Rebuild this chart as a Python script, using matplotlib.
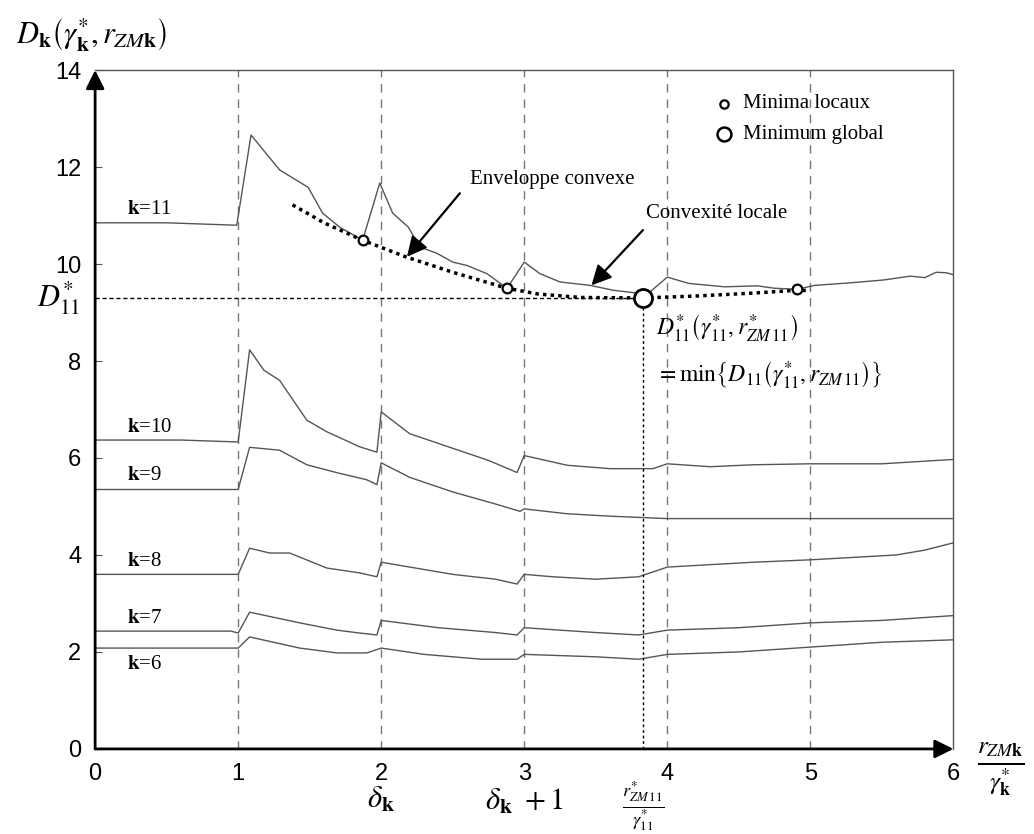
import numpy as np
import matplotlib
matplotlib.use('Agg')
import matplotlib.pyplot as plt
import matplotlib as mpl

mpl.rcParams['mathtext.fontset'] = 'stix'
mpl.rcParams['font.family'] = ['Liberation Sans', 'DejaVu Sans']

###########################################################
# data

k11_x = [0, 0.5, 0.99, 1.09, 1.29, 1.49, 1.59, 1.71, 1.87, 1.99, 2.08, 2.19, 2.27, 2.39, 2.5, 2.6,
         2.74, 2.88, 3.0, 3.11, 3.25, 3.46, 3.62, 3.79, 3.83, 4.0, 4.15, 4.4, 4.63, 4.75, 4.91,
         5.03, 5.27, 5.51, 5.7, 5.8, 5.88, 5.95, 6.0]
k11_y = [10.85, 10.85, 10.8, 12.66, 11.94, 11.58, 11.05, 10.76, 10.49, 11.67, 11.05, 10.76, 10.35,
         10.22, 10.04, 9.97, 9.8, 9.5, 10.04, 9.8, 9.63, 9.56, 9.46, 9.4, 9.3, 9.73, 9.6, 9.53,
         9.55, 9.5, 9.48, 9.56, 9.61, 9.67, 9.75, 9.72, 9.83, 9.82, 9.78]

k10_x = [0, 0.6, 1.0, 1.08, 1.18, 1.29, 1.48, 1.62, 1.85, 1.97, 2.0, 2.2, 2.5, 2.75, 2.95, 3.0,
         3.3, 3.6, 3.9, 4.0, 4.3, 4.6, 5.0, 5.5, 6.0]
k10_y = [6.37, 6.37, 6.33, 8.23, 7.81, 7.6, 6.78, 6.54, 6.23, 6.12, 6.95, 6.5, 6.2, 5.95, 5.7, 6.05,
         5.85, 5.78, 5.78, 5.88, 5.82, 5.86, 5.88, 5.88, 5.97]

k9_x = [0, 1.0, 1.08, 1.29, 1.48, 1.7, 1.9, 1.97, 2.0, 2.2, 2.5, 2.8, 2.97, 3.0, 3.3, 3.6, 4.0,
        4.5, 5.0, 5.5, 6.0]
k9_y = [5.35, 5.35, 6.22, 6.16, 5.86, 5.69, 5.55, 5.45, 5.9, 5.6, 5.3, 5.05, 4.9, 4.95, 4.85, 4.8,
        4.75, 4.75, 4.75, 4.75, 4.75]

k8_x = [0, 1.0, 1.08, 1.22, 1.36, 1.62, 1.85, 1.97, 2.0, 2.2, 2.5, 2.8, 2.95, 3.0, 3.2, 3.5, 3.8,
        4.0, 4.3, 4.6, 5.0, 5.3, 5.6, 5.8, 6.0]
k8_y = [3.6, 3.6, 4.14, 4.04, 4.04, 3.73, 3.63, 3.55, 3.85, 3.75, 3.6, 3.5, 3.4, 3.6, 3.55, 3.5,
        3.55, 3.75, 3.8, 3.85, 3.9, 3.95, 4.0, 4.1, 4.25]

k7_x = [0, 0.95, 1.0, 1.08, 1.43, 1.69, 1.85, 1.97, 2.0, 2.4, 2.8, 2.95, 3.0, 3.5, 3.8, 4.0, 4.5,
        5.0, 5.5, 6.0]
k7_y = [2.43, 2.43, 2.39, 2.82, 2.6, 2.45, 2.39, 2.35, 2.65, 2.5, 2.4, 2.35, 2.5, 2.4, 2.35, 2.45,
        2.5, 2.6, 2.65, 2.75]

k6_x = [0, 1.0, 1.08, 1.43, 1.69, 1.9, 2.0, 2.3, 2.7, 2.95, 3.0, 3.5, 3.8, 4.0, 4.5, 5.0, 5.5, 6.0]
k6_y = [2.08, 2.08, 2.31, 2.08, 1.98, 1.98, 2.08, 1.95, 1.85, 1.85, 1.95, 1.9, 1.85, 1.95, 2.0,
        2.1, 2.2, 2.25]

curves = [(k11_x, k11_y), (k10_x, k10_y), (k9_x, k9_y), (k8_x, k8_y), (k7_x, k7_y), (k6_x, k6_y)]
k_names = ['11', '10', '9', '8', '7', '6']
k_label_y = [10.92, 6.44, 5.45, 3.67, 2.5, 1.55]

env_x = [1.38, 1.6, 1.87, 2.17, 2.5, 2.88, 3.1, 3.4, 3.83, 4.2, 4.6, 4.91, 5.0]
env_y = [11.22, 10.85, 10.49, 10.15, 9.83, 9.5, 9.38, 9.31, 9.3, 9.34, 9.4, 9.46, 9.45]

loc_min_x = [1.87, 2.88, 4.91]
loc_min_y = [10.49, 9.5, 9.48]
glob_x = 3.83
glob_y = 9.3

###########################################################

fig = plt.figure(figsize=(10.34, 8.34), dpi=100)
ax = fig.add_axes([0.092, 0.102, 0.830, 0.814])
ax.set_xlim(0, 6)
ax.set_ylim(0, 14)

for s in ['left', 'bottom']:
    ax.spines[s].set_visible(False)
for s in ['top', 'right']:
    ax.spines[s].set_color('#555555')
    ax.spines[s].set_linewidth(1.0)

# axis arrows
arr = dict(arrowstyle='-|>', color='k', lw=2, mutation_scale=28, shrinkA=0, shrinkB=0)
ax.annotate('', xy=(0, 1), xycoords='axes fraction', xytext=(0, 0), arrowprops=arr)
ax.annotate('', xy=(1, 0), xycoords='axes fraction', xytext=(0, 0), arrowprops=arr)

# vertical dashed guides
for xv in [1, 2, 3, 4, 5]:
    ax.axvline(xv, color='#777777', lw=1, ls=(0, (6, 5)), zorder=1)

# curves
for (cx, cy), name, ly in zip(curves, k_names, k_label_y):
    ax.plot(cx, cy, color='#555555', lw=1.0, zorder=2)
    ax.text(0.22, ly, r'$\mathbf{k}$=' + name, family='Liberation Serif', fontsize=15,
            va='bottom', ha='left')

# D11* guides
ax.plot([0, glob_x], [glob_y, glob_y], color='k', lw=1, ls=(0, (3, 2)), zorder=2)
ax.plot([glob_x, glob_x], [0, glob_y], color='k', lw=1, ls=(0, (2, 2)), zorder=2)

# convex envelope
ax.plot(env_x, env_y, color='k', lw=2.5, ls=(0, (1, 1.2)), zorder=3)

ax.plot(loc_min_x, loc_min_y, 'o', mfc='white', mec='k', ms=7, mew=1.6, zorder=4)
ax.plot([glob_x], [glob_y], 'o', mfc='white', mec='k', ms=13, mew=2, zorder=4)

# arrows with text
head = dict(arrowstyle='-|>', color='k', lw=1.6, mutation_scale=30, shrinkA=0, shrinkB=0)
ax.annotate('', xy=(2.18, 10.15), xytext=(2.55, 11.46), arrowprops=head)
ax.annotate('', xy=(3.47, 9.56), xytext=(3.83, 10.7), arrowprops=head)
ax.text(2.62, 11.75, 'Enveloppe convexe', family='Liberation Serif', fontsize=15, va='center')
ax.text(3.85, 11.05, u'Convexit\u00e9 locale', family='Liberation Serif', fontsize=15, va='center')

ax.text(3.92, 8.68, r'$D^{*}_{11}\left(\gamma^{*}_{11},r^{*}_{ZM\,11}\right)$', fontsize=17,
        va='center', ha='left')
ax.text(3.92, 7.71, r'$=\min\left\{D_{11}\left(\gamma^{*}_{11},r_{ZM\,11}\right)\right\}$',
        fontsize=17, va='center', ha='left')

# legend
ax.plot([4.4], [13.3], 'o', mfc='white', mec='k', ms=6, mew=1.6, clip_on=False)
ax.text(4.53, 13.3, 'Minima locaux', family='Liberation Serif', fontsize=15, va='center')
ax.plot([4.4], [12.68], 'o', mfc='white', mec='k', ms=10, mew=1.8, clip_on=False)
ax.text(4.53, 12.68, 'Minimum global', family='Liberation Serif', fontsize=15, va='center')

# ticks
ax.set_xticks([0, 1, 2, 3, 4, 5, 6])
ax.set_yticks([0, 2, 4, 6, 8, 10, 12, 14])
ax.tick_params(axis='x', length=0, pad=10, labelsize=17)
ax.tick_params(axis='y', direction='in', length=5, color='#555555', pad=10, labelsize=17)

# extra labels under the axis
ax.text(2, -1.05, r'$\delta_{\mathbf{k}}$', fontsize=22, ha='center', va='center', clip_on=False)
ax.text(3, -1.1, r'$\delta_{\mathbf{k}}\ +1$', fontsize=22, ha='center', va='center', clip_on=False)
ax.text(glob_x, -1.18, r'$\frac{r^{*}_{ZM\,11}}{\gamma^{*}_{11}}$', fontsize=19, ha='center',
        va='center', clip_on=False)
ax.text(-0.1, glob_y, r'$D^{*}_{11}$', fontsize=22, ha='right', va='center', clip_on=False)

# axis labels
fig.text(0.968, 0.078, r'$\frac{r_{ZM\mathbf{k}}}{\gamma^{*}_{\mathbf{k}}}$', fontsize=26,
         ha='center', va='center')
fig.text(0.015, 0.958, r'$D_{\mathbf{k}}\left(\gamma^{*}_{\mathbf{k}},r_{ZM\mathbf{k}}\right)$',
         fontsize=22, ha='left', va='center')

plt.savefig('out.png', dpi=100)
